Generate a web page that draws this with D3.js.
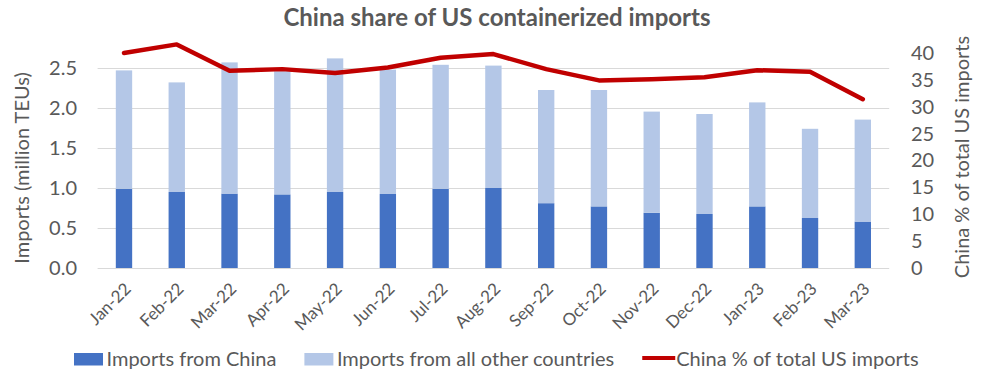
<!DOCTYPE html>
<html>
<head>
<meta charset="utf-8">
<script src="https://cdn.jsdelivr.net/npm/d3@7"></script>
<style>
  html, body { margin: 0; padding: 0; background: #fff; }
  svg { display: block; }
  text { font-family: Lato, "Open Sans", sans-serif; fill: #595959; }
</style>
</head>
<body>
<svg id="chart" width="990" height="375"></svg>
<script>
// ---- data ----
const categories = ["Jan-22","Feb-22","Mar-22","Apr-22","May-22","Jun-22","Jul-22","Aug-22",
                    "Sep-22","Oct-22","Nov-22","Dec-22","Jan-23","Feb-23","Mar-23"];
const importsChina = [0.99, 0.95, 0.93, 0.92, 0.95, 0.925, 0.99, 1.00,
                      0.81, 0.77, 0.69, 0.675, 0.77, 0.625, 0.58];
const importsOther = [1.48, 1.37, 1.64, 1.54, 1.67, 1.555, 1.55, 1.53,
                      1.415, 1.455, 1.265, 1.25, 1.30, 1.115, 1.275];
const chinaShare = [40.0, 41.6, 36.7, 37.0, 36.3, 37.3, 39.1, 39.8,
                    37.0, 34.9, 35.1, 35.5, 36.8, 36.5, 31.4];
const leftTicks = [0, 0.5, 1.0, 1.5, 2.0, 2.5];
const rightTicks = [0, 5, 10, 15, 20, 25, 30, 35, 40];
const seriesNames = ["Imports from China", "Imports from all other countries", "China % of total US imports"];

// ---- layout ----
const svg = d3.select("#chart");
const plotLeft = 97.6, plotRight = 889.2, plotTop = 53, plotBottom = 268;
const colChina = "#4472C4", colOther = "#B4C7E7", colLine = "#C00000";
const fs = 20;

const x = d3.scaleBand().domain(categories).range([plotLeft, plotRight])
  .paddingInner(0.69).paddingOuter(0.345);
const yL = d3.scaleLinear().domain([0, 2.6875]).range([plotBottom, plotTop]);
const yR = d3.scaleLinear().domain([0, 40]).range([plotBottom, plotTop]);

// title
svg.append("text").attr("x", 497).attr("y", 26).attr("text-anchor", "middle")
  .style("font-size", "24px").style("font-weight", "bold")
  .text("China share of US containerized imports");

// gridlines
svg.append("g").selectAll("line").data(leftTicks).join("line")
  .attr("x1", plotLeft).attr("x2", plotRight)
  .attr("y1", d => Math.round(yL(d)) + 0.5).attr("y2", d => Math.round(yL(d)) + 0.5)
  .attr("stroke", "#D9D9D9").attr("stroke-width", 1);

// left axis
const axL = d3.axisLeft(yL).tickValues(leftTicks).tickFormat(d3.format(".1f")).tickSize(0).tickPadding(0);
const gL = svg.append("g").attr("transform", "translate(77,0)").call(axL);
gL.select(".domain").remove();
gL.selectAll("text").style("font-size", fs + "px").attr("fill", "#595959").attr("font-family", null);

// right axis
const axR = d3.axisRight(yR).tickValues(rightTicks).tickFormat(d3.format("d")).tickSize(0).tickPadding(0);
const gR = svg.append("g").attr("transform", "translate(911,0)").call(axR);
gR.select(".domain").remove();
gR.selectAll("text").style("font-size", fs + "px").attr("fill", "#595959").attr("font-family", null);

// bars (stacked)
const stackData = categories.map((c, i) => ({cat: c, china: importsChina[i], other: importsOther[i]}));
const stacked = d3.stack().keys(["china", "other"])(stackData);
const colors = {china: colChina, other: colOther};
svg.append("g").selectAll("g").data(stacked).join("g")
  .attr("fill", d => colors[d.key])
  .selectAll("rect").data(d => d).join("rect")
  .attr("x", d => x(d.data.cat))
  .attr("width", x.bandwidth())
  .attr("y", d => yL(d[1]))
  .attr("height", d => yL(d[0]) - yL(d[1]));

// line
const line = d3.line()
  .x((d, i) => x(categories[i]) + x.bandwidth() / 2)
  .y(d => yR(d));
svg.append("path").datum(chinaShare)
  .attr("d", line).attr("fill", "none")
  .attr("stroke", colLine).attr("stroke-width", 4.5)
  .attr("stroke-linejoin", "round").attr("stroke-linecap", "round");

// x labels
const xAx = d3.axisBottom(x).tickSize(0).tickPadding(0);
const gX = svg.append("g").call(xAx);
gX.select(".domain").remove();
gX.selectAll(".tick").attr("transform", null);
gX.selectAll(".tick text")
  .attr("font-family", null).style("font-size", "17px").attr("fill", "#595959")
  .attr("text-anchor", "end").attr("dy", null).attr("y", null)
  .attr("transform", d => `translate(${x(d) + x.bandwidth() / 2 + 8},${290}) rotate(-45)`);

// axis titles
svg.append("text").attr("transform", "translate(29,168) rotate(-90)")
  .attr("text-anchor", "middle").style("font-size", fs + "px")
  .text("Imports (million TEUs)");
svg.append("text").attr("transform", "translate(969,157) rotate(-90)")
  .attr("text-anchor", "middle").style("font-size", fs + "px")
  .text("China % of total US imports");

// legend
const lg = svg.append("g");
const legY = 359;
let lx = 74;
seriesNames.forEach((name, i) => {
  if (i < 2) {
    lg.append("rect").attr("x", lx).attr("y", legY - 6).attr("width", 29).attr("height", 12.5)
      .attr("fill", i === 0 ? colChina : colOther);
    lx += 32.5;
  } else {
    lg.append("line").attr("x1", lx).attr("x2", lx + 33).attr("y1", legY - 1).attr("y2", legY - 1)
      .attr("stroke", colLine).attr("stroke-width", 4);
    lx += 34;
  }
  const t = lg.append("text").attr("x", lx).attr("y", legY + 6.5).style("font-size", fs + "px").text(name);
  lx += t.node().getComputedTextLength() + 28;
});
</script>
</body>
</html>
